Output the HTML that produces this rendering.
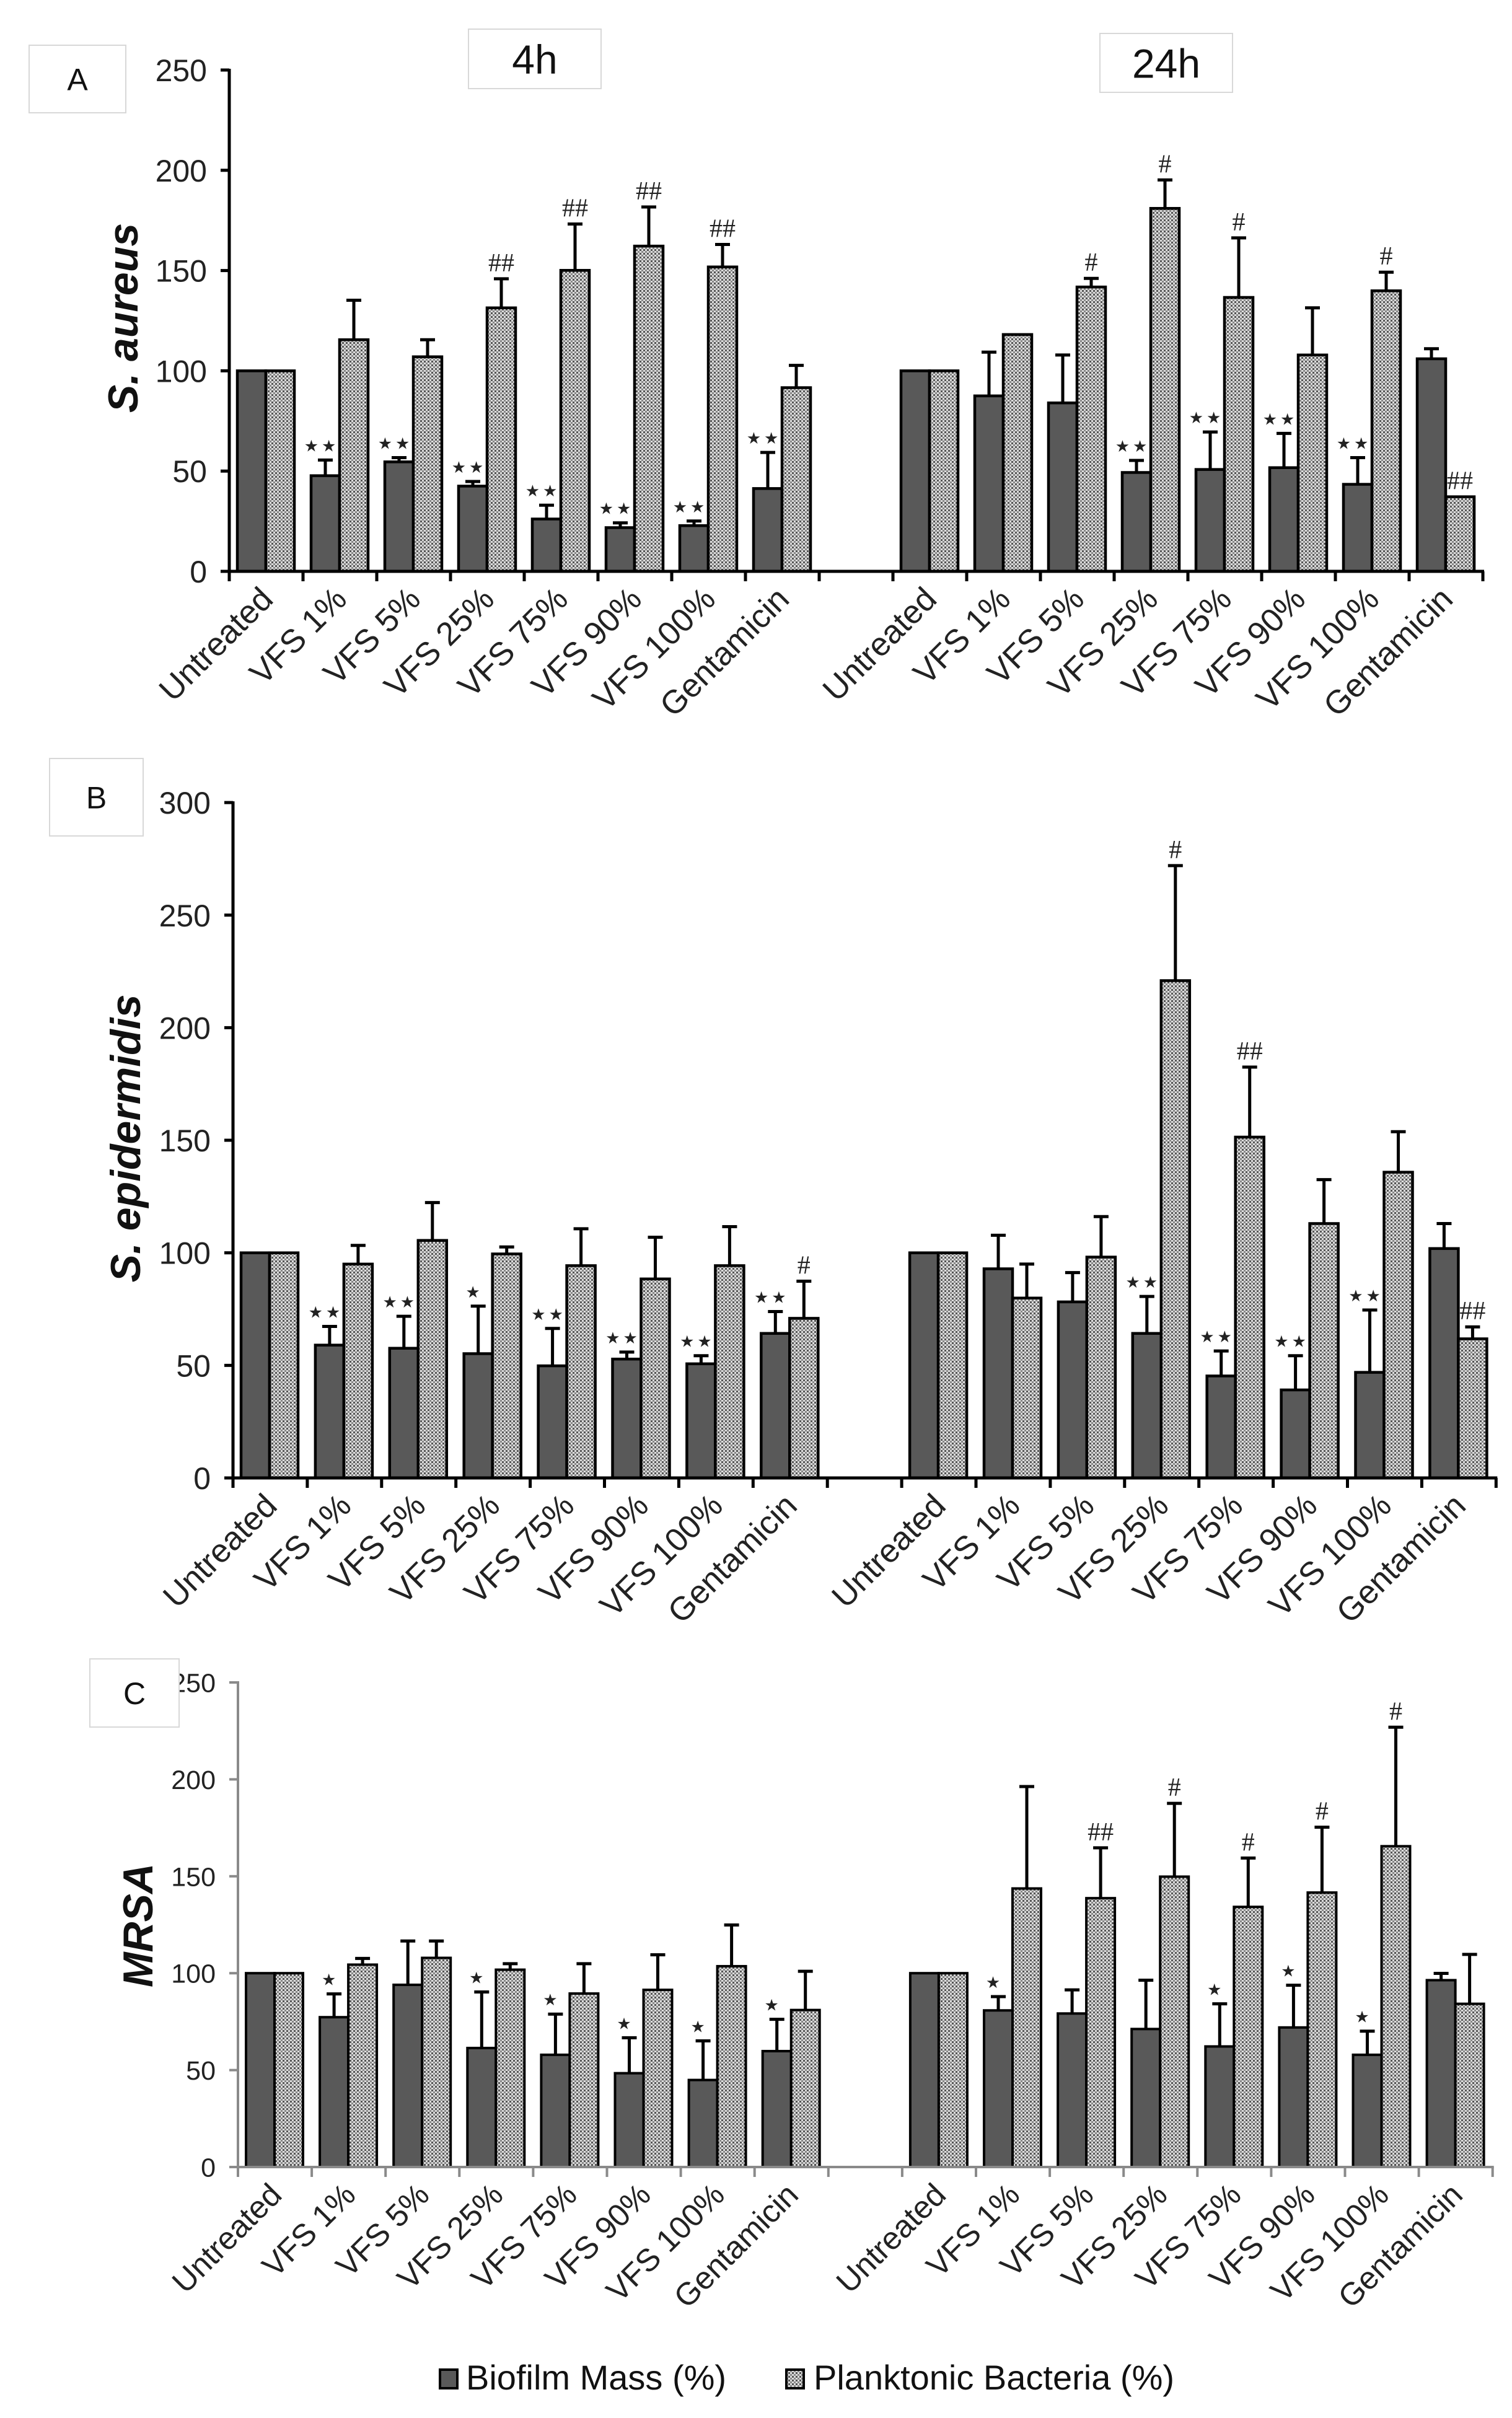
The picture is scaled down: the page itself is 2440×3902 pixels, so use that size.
<!DOCTYPE html>
<html><head><meta charset="utf-8"><style>
html,body{margin:0;padding:0;background:#fff;}
svg{display:block;font-family:"Liberation Sans",Arial,sans-serif;}
</style></head>
<body>
<svg id="fig" width="2440" height="3902" viewBox="0 0 2440 3902" xmlns="http://www.w3.org/2000/svg">
<defs>
<pattern id="chk" width="6" height="6" patternUnits="userSpaceOnUse">
<rect width="6" height="6" fill="#dcdcdc"/><rect x="0" y="0" width="3" height="3" fill="#555"/><rect x="3" y="3" width="3" height="3" fill="#888"/>
</pattern>
</defs>
<g id="root"></g>
</svg>
<script>
const categories = ["Untreated","VFS 1%","VFS 5%","VFS 25%","VFS 75%","VFS 90%","VFS 100%","Gentamicin","","Untreated","VFS 1%","VFS 5%","VFS 25%","VFS 75%","VFS 90%","VFS 100%","Gentamicin"];
const aTicks = [0,50,100,150,200,250];
const bTicks = [0,50,100,150,200,250,300];
const cTicks = [0,50,100,150,200,250];
// Panel A (S. aureus); index 8 is the gap
const aDark = [100,47.7,54.6,42.5,26.1,21.8,22.8,41.3,null,100,87.5,84,49.3,50.8,51.7,43.4,106];
const aDarkErr = [100,55.5,56.7,44.8,33,24.2,25.1,59.3,null,100,109.3,107.9,55.3,69.5,68.8,56.7,111];
const aLight = [100,115.5,107,131.4,150.1,162.2,151.8,91.6,null,100,118.1,141.8,181,136.6,107.9,139.9,37.2];
const aLightErr = [100,135.2,115.5,145.9,173.2,181.7,163,102.7,null,100,118.6,146.1,195.2,166.3,131.4,149.2,37.2];
const aDarkSig = ["","**","**","**","**","**","**","**","","","","","**","**","**","**",""];
const aLightSig = ["","","","##","##","##","##","","","","","#","#","#","","#","##"];
// Panel B (S. epidermidis)
const bDark = [100,59,57.6,55.2,49.8,52.8,50.7,64.2,null,100,92.9,78.2,64.2,45.3,39.1,46.9,101.9];
const bDarkErr = [100,67.3,71.8,76.3,66.4,55.9,54.3,73.9,null,100,107.8,91.2,80.6,56.4,54.3,74.6,113];
const bLight = [100,95,105.5,99.5,94.3,88.4,94.3,70.9,null,100,79.9,98.1,220.9,151.4,113,135.8,61.8];
const bLightErr = [100,103.3,122.3,102.6,110.7,106.9,111.6,87.4,null,100,95,116.1,272,182.5,132.5,153.8,67.1];
const bDarkSig = ["","**","**","*","**","**","**","**","","","","","**","**","**","**",""];
const bLightSig = ["","","","","","","","#","","","","","#","##","","","##"];
// Panel C (MRSA)
const cDark = [100,77.3,94,61.4,57.9,48.4,44.9,59.8,null,100,80.8,79.2,71.2,62.2,72,57.9,96.4];
const cDarkErr = [100,89.3,116.6,90.3,78.9,66.7,65.1,76.2,null,100,87.9,91.4,96.4,84.2,93.8,70.1,99.9];
const cLight = [100,104.4,107.9,101.8,89.5,91.4,103.6,81,null,100,143.7,138.7,149.8,134.2,141.6,165.5,84.2];
const cLightErr = [100,107.6,116.6,104.9,104.9,109.5,124.9,101,null,100,196.3,164.7,187.6,159.4,175.3,226.9,109.7];
const cDarkSig = ["","*","","*","*","*","*","*","","","*","","","*","*","*",""];
const cLightSig = ["","","","","","","","","","","","##","#","#","#","#",""];

const NS="http://www.w3.org/2000/svg";
const root=document.getElementById('root');
function mk(tag,attrs,parent,text){const e=document.createElementNS(NS,tag);for(const k in attrs)e.setAttribute(k,attrs[k]);if(text!==undefined)e.textContent=text;(parent||root).appendChild(e);return e;}

function panel(p){
  const g=mk('g',{});
  
  
  const n=categories.length, x0=p.x0, cw=p.cw, y0=p.y0, k=p.ppu;
  const X=i=>x0+i*cw;
  const Y=v=>y0-v*k;
  const ax=p.axisColor, aw=p.axisW;
  for(let i=0;i<n;i++){
    if(p.dark[i]==null) continue;
    const bx=X(i)+13, bw=46;
    const d=mk('rect',{x:bx,y:Y(p.dark[i]),width:bw,height:p.dark[i]*k,fill:'#595959',stroke:'#000','stroke-width':p.barW},g);
    
    
    const l=mk('rect',{x:bx+bw,y:Y(p.light[i]),width:bw,height:p.light[i]*k,fill:'url(#chk)',stroke:'#000','stroke-width':p.barW},g);
    
    
    const errs=[[bx+bw/2,p.dark[i],p.darkErr[i]],[bx+bw*1.5,p.light[i],p.lightErr[i]]];
    errs.forEach(([cx,v,t])=>{
      if(t>v+0.5){
        const e=mk('path',{d:`M${cx} ${Y(v)}V${Y(t)}M${cx-12} ${Y(t)}H${cx+12}`,stroke:'#000','stroke-width':5,fill:'none'},g);
        
        
      }
    });
    if(p.darkSig[i]){
      const s=mk('text',{x:bx+bw/2-6,y:Y(Math.max(p.darkErr[i],p.dark[i]))-14,'text-anchor':'middle','font-family':'DejaVu Sans, sans-serif','font-size':26,'letter-spacing':5,fill:'#222'},g,p.darkSig[i].replace(/\*/g,'★'));
      
      
    }
    if(p.lightSig[i]){
      const s=mk('text',{x:bx+bw*1.5,y:Y(Math.max(p.lightErr[i],p.light[i]))-12,'text-anchor':'middle','font-family':'Liberation Serif, serif','font-size':42,fill:'#222'},g,p.lightSig[i]);
      
      
    }
  }
  const ya=mk('line',{x1:x0,y1:Y(p.ticks[p.ticks.length-1])-2,x2:x0,y2:y0+aw/2,stroke:ax,'stroke-width':aw},g);
  
  
  const xa=mk('line',{x1:x0-2,y1:y0,x2:X(n)+2,y2:y0,stroke:ax,'stroke-width':aw},g);
  
  
  p.ticks.forEach(t=>{
    mk('line',{x1:x0-14,y1:Y(t),x2:x0,y2:Y(t),stroke:ax,'stroke-width':aw},g);
    const tl=mk('text',{x:x0-36,y:Y(t)+p.tickFont*0.36,'text-anchor':'end','font-size':p.tickFont,fill:'#222'},g,String(t));
    
    
  });
  for(let i=0;i<=n;i++) mk('line',{x1:X(i),y1:y0,x2:X(i),y2:y0+16,stroke:ax,'stroke-width':aw},g);
  for(let i=0;i<n;i++){
    if(!categories[i]) continue;
    const cx=X(i)+cw/2+14, cy=y0+48;
    const t=mk('text',{x:cx,y:cy,'text-anchor':'end','font-size':p.catFont,fill:'#222',transform:`rotate(-45 ${cx} ${cy})`},g,categories[i]);
    
    
  }
  const yt=mk('text',{x:p.tx,y:p.ty,'text-anchor':'middle','font-size':68,'font-weight':'bold','font-style':'italic',fill:'#111',transform:`rotate(-90 ${p.tx} ${p.ty})`},g,p.title);
  
  
}

panel({name:'panel-a-s-aureus',x0:370,cw:119,y0:922,ppu:3.236,ticks:aTicks,dark:aDark,darkErr:aDarkErr,light:aLight,lightErr:aLightErr,darkSig:aDarkSig,lightSig:aLightSig,axisColor:'#000',axisW:5,barW:4.5,tickFont:50,catFont:53,title:'S. aureus',tx:222,ty:513});
panel({name:'panel-b-s-epidermidis',x0:376,cw:119.9,y0:2385,ppu:3.633,ticks:bTicks,dark:bDark,darkErr:bDarkErr,light:bLight,lightErr:bLightErr,darkSig:bDarkSig,lightSig:bLightSig,axisColor:'#000',axisW:5,barW:4.5,tickFont:50,catFont:53,title:'S. epidermidis',tx:226,ty:1837});
panel({name:'panel-c-mrsa',x0:384,cw:119.1,y0:3497,ppu:3.128,ticks:cTicks,dark:cDark,darkErr:cDarkErr,light:cLight,lightErr:cLightErr,darkSig:cDarkSig,lightSig:cLightSig,axisColor:'#8a8a8a',axisW:4,barW:4,tickFont:43,catFont:51,title:'MRSA',tx:246,ty:3107});

function box(x,y,w,h,txt,fs,name){
  const r=mk('rect',{x:x,y:y,width:w,height:h,fill:'#fff',stroke:'#d8d8d8','stroke-width':2});
  
  
  const t=mk('text',{x:x+w/2,y:y+h/2+fs*0.36,'text-anchor':'middle','font-size':fs,fill:'#111'},root,txt);
  
  
}
box(47,73,156,109,'A',50,'panel-label-a');
box(756,47,214,96,'4h',66,'time-label-4h');
box(1775,54,214,95,'24h',66,'time-label-24h');
box(80,1224,151,125,'B',50,'panel-label-b');
box(145,2677,144,110,'C',50,'panel-label-c');

const l1=mk('rect',{x:710,y:3824,width:28,height:30,fill:'#595959',stroke:'#000','stroke-width':4});


const l1t=mk('text',{x:752,y:3856,'font-size':56,fill:'#111'},root,'Biofilm Mass (%)');


const l2=mk('rect',{x:1269,y:3824,width:28,height:30,fill:'url(#chk)',stroke:'#000','stroke-width':4});


const l2t=mk('text',{x:1313,y:3856,'font-size':56,fill:'#111'},root,'Planktonic Bacteria (%)');


</script>
</body></html>
